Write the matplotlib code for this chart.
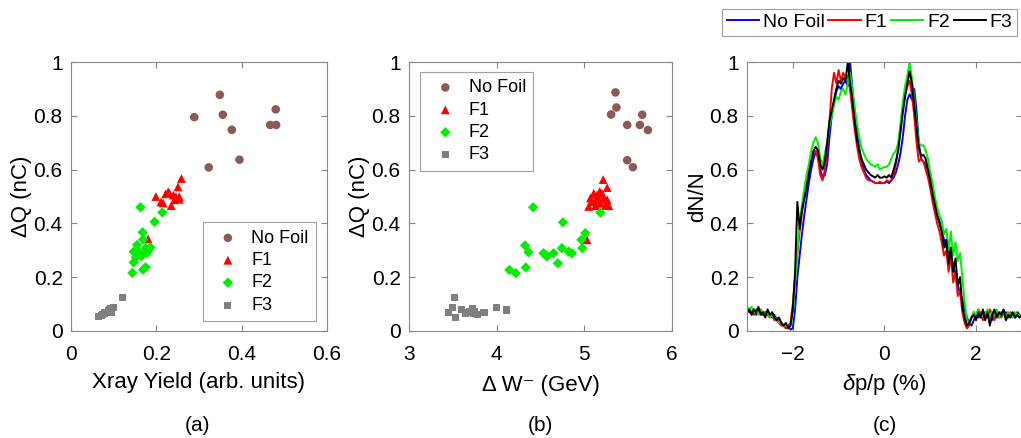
import numpy as np
import matplotlib
matplotlib.use('Agg')
import matplotlib.pyplot as plt

plt.rcParams['font.family'] = ['Liberation Sans', 'DejaVu Sans']
plt.rcParams['mathtext.fontset'] = 'custom'
plt.rcParams['mathtext.rm'] = 'Liberation Sans'
plt.rcParams['mathtext.it'] = 'Liberation Sans:italic'

# panel (a): Xray yield vs charge
A_NOFOIL_X = [0.349, 0.289, 0.356, 0.377, 0.323, 0.395, 0.480, 0.467, 0.481]
A_NOFOIL_Y = [0.878, 0.795, 0.804, 0.748, 0.608, 0.637, 0.824, 0.766, 0.766]
A_F1_X = [0.199, 0.211, 0.222, 0.228, 0.235, 0.240, 0.246, 0.254, 0.251, 0.259,
          0.254, 0.181, 0.216, 0.231, 0.243]
A_F1_Y = [0.500, 0.480, 0.510, 0.518, 0.466, 0.505, 0.500, 0.500, 0.536, 0.567,
          0.490, 0.342, 0.476, 0.512, 0.488]
A_F2_X = [0.163, 0.214, 0.196, 0.168, 0.169, 0.155, 0.147, 0.160, 0.175, 0.186,
          0.178, 0.165, 0.152, 0.147, 0.144, 0.169, 0.175, 0.181]
A_F2_Y = [0.460, 0.441, 0.406, 0.367, 0.340, 0.320, 0.295, 0.292, 0.307, 0.311,
          0.290, 0.278, 0.274, 0.255, 0.216, 0.228, 0.237, 0.299]
A_F3_X = [0.065, 0.071, 0.079, 0.087, 0.092, 0.099, 0.095, 0.083, 0.121, 0.075, 0.090]
A_F3_Y = [0.053, 0.059, 0.067, 0.076, 0.084, 0.088, 0.069, 0.069, 0.126, 0.062, 0.080]

# panel (b): energy loss vs charge
B_NOFOIL_X = [5.355, 5.366, 5.305, 5.489, 5.660, 5.634, 5.725, 5.489, 5.553]
B_NOFOIL_Y = [0.887, 0.831, 0.805, 0.766, 0.804, 0.766, 0.747, 0.635, 0.609]
B_F1_X = [5.214, 5.260, 5.030, 5.069, 5.107, 5.145, 5.164, 5.050, 5.088, 5.183,
          5.221, 5.260, 5.279, 5.126, 5.240, 5.202, 5.176, 5.137]
B_F1_Y = [0.563, 0.533, 0.339, 0.494, 0.512, 0.506, 0.488, 0.463, 0.481, 0.475,
          0.494, 0.488, 0.466, 0.466, 0.466, 0.512, 0.519, 0.488]
B_F2_X = [4.416, 4.756, 5.183, 5.011, 4.966, 4.977, 4.744, 4.324, 4.363, 4.534,
          4.573, 4.649, 4.698, 4.821, 4.859, 4.145, 4.218, 4.332, 4.560]
B_F2_Y = [0.460, 0.404, 0.440, 0.364, 0.339, 0.308, 0.308, 0.318, 0.293, 0.289,
          0.277, 0.289, 0.252, 0.295, 0.289, 0.227, 0.215, 0.236, 0.283]
B_F3_X = [3.519, 3.447, 3.496, 3.534, 3.599, 3.649, 3.687, 3.725, 3.752, 3.779,
          3.855, 4.000, 4.107, 3.670, 3.740]
B_F3_Y = [0.124, 0.069, 0.087, 0.051, 0.081, 0.066, 0.074, 0.084, 0.074, 0.060,
          0.069, 0.088, 0.078, 0.070, 0.066]

# panel (c): spectra, dp/p from -3 to 3 in steps of 0.05
DP = np.round(np.arange(-3.0, 3.0001, 0.05), 2)
SPEC_NOFOIL = [
    0.08, 0.07, 0.07, 0.08, 0.06, 0.08, 0.07, 0.06, 0.07, 0.07,
    0.06, 0.05, 0.06, 0.04, 0.03, 0.03, 0.02, 0.01, 0.02, 0.005,
    0.01, 0.08, 0.20, 0.28, 0.36, 0.43, 0.49, 0.55, 0.60, 0.64,
    0.665, 0.65, 0.60, 0.57, 0.58, 0.62, 0.72, 0.80, 0.85, 0.89,
    0.91, 0.90, 0.92, 0.93, 0.91, 1.00, 0.90, 0.82, 0.74, 0.68,
    0.63, 0.60, 0.58, 0.57, 0.56, 0.555, 0.55, 0.55, 0.55, 0.55,
    0.55, 0.555, 0.55, 0.56, 0.57, 0.59, 0.62, 0.66, 0.72, 0.80,
    0.86, 0.88, 0.86, 0.90, 0.82, 0.70, 0.64, 0.63, 0.62, 0.59,
    0.55, 0.51, 0.46, 0.43, 0.41, 0.37, 0.34, 0.31, 0.30, 0.27,
    0.25, 0.20, 0.17, 0.14, 0.12, 0.08, 0.05, 0.03, 0.02, 0.04,
    0.06, 0.05, 0.07, 0.06, 0.05, 0.07, 0.06, 0.04, 0.07, 0.06,
    0.05, 0.07, 0.06, 0.07, 0.05, 0.06, 0.06, 0.05, 0.07, 0.06,
    0.06]
SPEC_F1 = [
    0.07, 0.08, 0.07, 0.06, 0.08, 0.07, 0.08, 0.06, 0.07, 0.06,
    0.05, 0.06, 0.04, 0.05, 0.03, 0.02, 0.02, 0.01, 0.02, 0.03,
    0.10, 0.20, 0.29, 0.37, 0.44, 0.50, 0.55, 0.60, 0.63, 0.66,
    0.67, 0.64, 0.58, 0.56, 0.60, 0.68, 0.78, 0.90, 0.96, 0.92,
    0.97, 0.93, 0.96, 0.94, 0.95, 0.90, 0.82, 0.75, 0.69, 0.64,
    0.61, 0.59, 0.57, 0.56, 0.56, 0.555, 0.55, 0.55, 0.555, 0.55,
    0.55, 0.56, 0.555, 0.56, 0.58, 0.62, 0.68, 0.76, 0.83, 0.88,
    0.91, 0.93, 0.88, 0.80, 0.70, 0.63, 0.64, 0.63, 0.60, 0.57,
    0.53, 0.48, 0.44, 0.40, 0.37, 0.33, 0.28, 0.30, 0.22, 0.28,
    0.18, 0.22, 0.13, 0.15, 0.07, 0.03, 0.01, 0.02, 0.05, 0.07,
    0.05, 0.08, 0.06, 0.04, 0.07, 0.05, 0.08, 0.06, 0.04, 0.07,
    0.06, 0.05, 0.07, 0.06, 0.05, 0.07, 0.06, 0.05, 0.06, 0.05,
    0.06]
SPEC_F2 = [
    0.09, 0.08, 0.09, 0.07, 0.08, 0.06, 0.08, 0.07, 0.06, 0.07,
    0.05, 0.06, 0.05, 0.04, 0.03, 0.03, 0.02, 0.02, 0.01, 0.02,
    0.06, 0.18, 0.30, 0.40, 0.47, 0.53, 0.58, 0.62, 0.67, 0.70,
    0.72, 0.70, 0.64, 0.62, 0.66, 0.70, 0.76, 0.80, 0.84, 0.87,
    0.86, 0.89, 0.90, 0.88, 0.92, 0.96, 0.90, 0.83, 0.77, 0.72,
    0.68, 0.66, 0.64, 0.63, 0.62, 0.615, 0.61, 0.62, 0.60, 0.605,
    0.61, 0.61, 0.62, 0.64, 0.66, 0.67, 0.70, 0.77, 0.85, 0.91,
    0.95, 1.00, 0.94, 0.86, 0.78, 0.70, 0.69, 0.69, 0.67, 0.64,
    0.59, 0.55, 0.50, 0.46, 0.43, 0.41, 0.36, 0.38, 0.30, 0.37,
    0.28, 0.33, 0.26, 0.29, 0.20, 0.11, 0.04, 0.03, 0.05, 0.07,
    0.06, 0.08, 0.05, 0.07, 0.06, 0.08, 0.05, 0.07, 0.06, 0.08,
    0.05, 0.07, 0.06, 0.05, 0.07, 0.06, 0.05, 0.07, 0.06, 0.06,
    0.06]
SPEC_F3 = [
    0.07, 0.08, 0.06, 0.08, 0.07, 0.09, 0.06, 0.07, 0.05, 0.08,
    0.06, 0.07, 0.05, 0.04, 0.05, 0.03, 0.02, 0.03, 0.01, 0.02,
    0.08, 0.22, 0.48, 0.38, 0.45, 0.49, 0.53, 0.58, 0.63, 0.67,
    0.685, 0.67, 0.62, 0.60, 0.63, 0.70, 0.78, 0.82, 0.86, 0.90,
    0.93, 0.92, 0.94, 0.93, 1.00, 0.92, 0.86, 0.78, 0.71, 0.67,
    0.64, 0.62, 0.60, 0.59, 0.58, 0.575, 0.57, 0.58, 0.57, 0.57,
    0.575, 0.57, 0.58, 0.57, 0.60, 0.63, 0.67, 0.74, 0.81, 0.87,
    0.92, 0.965, 0.92, 0.84, 0.76, 0.68, 0.65, 0.655, 0.64, 0.60,
    0.56, 0.51, 0.47, 0.43, 0.40, 0.37, 0.31, 0.34, 0.25, 0.31,
    0.22, 0.27, 0.17, 0.20, 0.09, 0.05, 0.02, 0.03, 0.05, 0.06,
    0.04, 0.07, 0.05, 0.08, 0.04, 0.07, 0.02, 0.06, 0.08, 0.05,
    0.07, 0.06, 0.08, 0.04, 0.06, 0.05, 0.07, 0.05, 0.06, 0.05,
    0.06]

LABELS = ['No Foil', 'F1', 'F2', 'F3']
MARK_COLORS = ['#8c5a5a', '#ff0000', '#00ee00', '#808080']
MARKERS = ['o', '^', 'D', 's']
MARK_SIZES = [38, 40, 28, 26]
LINE_COLORS = ['#0000ff', '#ff0000', '#00ee00', '#000000']

FS = 15      # tick labels
LFS = 16     # axis labels
LEG_FS = 13


def style_axes(ax):
    for s in ax.spines.values():
        s.set_color('#888888')
        s.set_linewidth(0.8)
    ax.tick_params(direction='in', top=True, right=True, length=4,
                   color='#888888', labelsize=FS, labelcolor='black', pad=6)
    ax.tick_params(axis='x', pad=10)


def style_legend(leg):
    leg.get_frame().set_edgecolor('#888888')
    leg.get_frame().set_linewidth(0.8)


fig = plt.figure(figsize=(10.21, 4.38), dpi=100)
ax_a = fig.add_axes([0.0695, 0.2443, 0.2507, 0.6141])
ax_b = fig.add_axes([0.4006, 0.2443, 0.2576, 0.6141])
ax_c = fig.add_axes([0.7316, 0.2443, 0.2693, 0.6141])

# (a)
for xs, ys, lab, c, m, s in zip([A_NOFOIL_X, A_F1_X, A_F2_X, A_F3_X],
                                [A_NOFOIL_Y, A_F1_Y, A_F2_Y, A_F3_Y],
                                LABELS, MARK_COLORS, MARKERS, MARK_SIZES):
    ax_a.scatter(xs, ys, s=s, marker=m, color=c, edgecolors='none', label=lab)
ax_a.set_xlim(0, 0.6)
ax_a.set_ylim(0, 1)
ax_a.set_xticks([0, 0.2, 0.4, 0.6])
ax_a.set_xticklabels(['0', '0.2', '0.4', '0.6'])
ax_a.set_yticks([0, 0.2, 0.4, 0.6, 0.8, 1])
ax_a.set_yticklabels(['0', '0.2', '0.4', '0.6', '0.8', '1'])
ax_a.set_xlabel('Xray Yield (arb. units)', fontsize=LFS, labelpad=6)
ax_a.set_ylabel('ΔQ (nC)', fontsize=LFS, labelpad=1)
style_axes(ax_a)
leg = ax_a.legend(loc='lower right', fontsize=LEG_FS, frameon=True, fancybox=False,
                  borderpad=0.4, handletextpad=0.3, labelspacing=0.3,
                  bbox_to_anchor=(0.957, 0.037), borderaxespad=0)
style_legend(leg)

# (b)
for xs, ys, lab, c, m, s in zip([B_NOFOIL_X, B_F1_X, B_F2_X, B_F3_X],
                                [B_NOFOIL_Y, B_F1_Y, B_F2_Y, B_F3_Y],
                                LABELS, MARK_COLORS, MARKERS, MARK_SIZES):
    ax_b.scatter(xs, ys, s=s, marker=m, color=c, edgecolors='none', label=lab)
ax_b.set_xlim(3, 6)
ax_b.set_ylim(0, 1)
ax_b.set_xticks([3, 4, 5, 6])
ax_b.set_yticks([0, 0.2, 0.4, 0.6, 0.8, 1])
ax_b.set_yticklabels(['0', '0.2', '0.4', '0.6', '0.8', '1'])
ax_b.set_xlabel('Δ W⁻ (GeV)', fontsize=LFS, labelpad=8)
ax_b.set_ylabel('ΔQ (nC)', fontsize=LFS, labelpad=1)
style_axes(ax_b)
leg = ax_b.legend(loc='upper left', fontsize=LEG_FS, frameon=True, fancybox=False,
                  borderpad=0.4, handletextpad=0.3, labelspacing=0.3,
                  bbox_to_anchor=(0.042, 0.963), borderaxespad=0)
style_legend(leg)

# (c)
for ys, lab, c in zip([SPEC_NOFOIL, SPEC_F1, SPEC_F2, SPEC_F3], LABELS, LINE_COLORS):
    ax_c.plot(DP, ys, color=c, lw=1.4, label=lab)
ax_c.set_xlim(-3, 3)
ax_c.set_ylim(0, 1)
ax_c.set_xticks([-2, 0, 2])
ax_c.set_yticks([0, 0.2, 0.4, 0.6, 0.8, 1])
ax_c.set_yticklabels(['0', '0.2', '0.4', '0.6', '0.8', '1'])
ax_c.set_xlabel(r'$\delta$p/p (%)', fontsize=LFS, labelpad=6)
ax_c.set_ylabel('dN/N', fontsize=LFS, labelpad=1)
style_axes(ax_c)
leg = fig.legend(*ax_c.get_legend_handles_labels(), loc='upper left', ncol=4,
                 fontsize=14, frameon=True, fancybox=False,
                 bbox_to_anchor=(0.707, 0.98), handlelength=1.65,
                 handletextpad=0.2, columnspacing=0.2, borderpad=0.25,
                 borderaxespad=0)
style_legend(leg)

for x, lab in zip([0.193, 0.529, 0.867], ['(a)', '(b)', '(c)']):
    fig.text(x, 0.028, lab, ha='center', va='center', fontsize=FS)

fig.savefig('out.png', dpi=100)
